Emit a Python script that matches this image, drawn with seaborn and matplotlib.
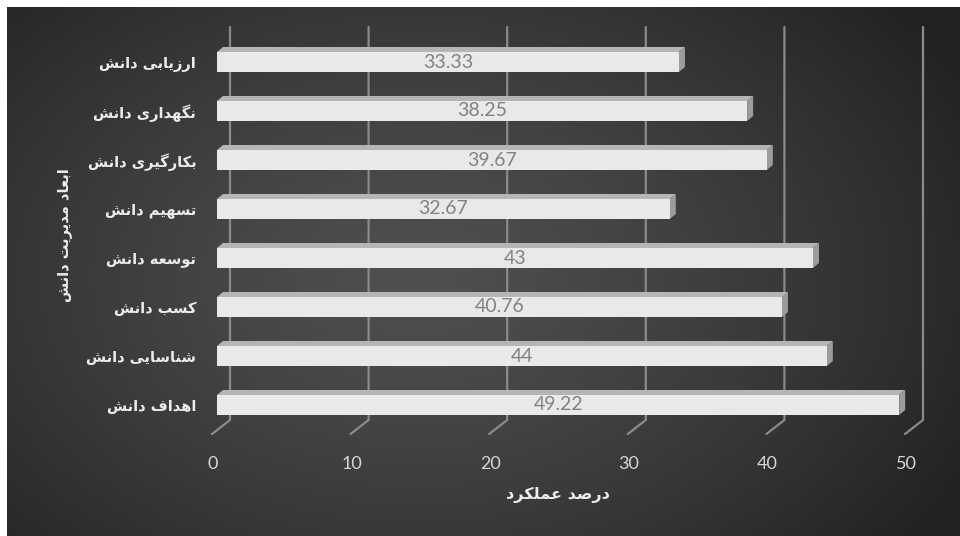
import numpy as np
import matplotlib
matplotlib.use("Agg")
import matplotlib.pyplot as plt
from matplotlib import transforms
from matplotlib.patches import Polygon
from matplotlib.lines import Line2D
import seaborn as sns

# ---------------- data ----------------
categories = ['ارزیابی دانش', 'نگهداری دانش', 'بکارگیری دانش', 'تسهیم دانش',
              'توسعه دانش', 'کسب دانش', 'شناسایی دانش', 'اهداف دانش']
values = [33.33, 38.25, 39.67, 32.67, 43, 40.76, 44, 49.22]
xticks = [0, 10, 20, 30, 40, 50]
x_title = 'درصد عملکرد'
y_title = 'ابعاد مدیریت دانش'

# ---------------- minimal Arabic/Persian shaping ----------------
FORMS = {
    'ا': ('\uFE8D', '\uFE8E'), 'د': ('\uFEA9', '\uFEAA'), 'ر': ('\uFEAD', '\uFEAE'),
    'ز': ('\uFEAF', '\uFEB0'), 'و': ('\uFEED', '\uFEEE'),
    'ب': ('\uFE8F', '\uFE90', '\uFE91', '\uFE92'), 'ت': ('\uFE95', '\uFE96', '\uFE97', '\uFE98'),
    'س': ('\uFEB1', '\uFEB2', '\uFEB3', '\uFEB4'), 'ش': ('\uFEB5', '\uFEB6', '\uFEB7', '\uFEB8'),
    'ص': ('\uFEB9', '\uFEBA', '\uFEBB', '\uFEBC'), 'ع': ('\uFEC9', '\uFECA', '\uFECB', '\uFECC'),
    'ف': ('\uFED1', '\uFED2', '\uFED3', '\uFED4'), 'ل': ('\uFEDD', '\uFEDE', '\uFEDF', '\uFEE0'),
    'م': ('\uFEE1', '\uFEE2', '\uFEE3', '\uFEE4'), 'ن': ('\uFEE5', '\uFEE6', '\uFEE7', '\uFEE8'),
    'ه': ('\uFEE9', '\uFEEA', '\uFEEB', '\uFEEC'), 'ی': ('\uFBFC', '\uFBFD', '\uFBFE', '\uFBFF'),
    'ک': ('\uFB8E', '\uFB8F', '\uFB90', '\uFB91'), 'گ': ('\uFB92', '\uFB93', '\uFB94', '\uFB95'),
}


def shape(s):
    out = []
    for i, c in enumerate(s):
        if c not in FORMS:
            out.append(c)
            continue
        f = FORMS[c]
        prev = s[i - 1] if i > 0 else None
        nxt = s[i + 1] if i + 1 < len(s) else None
        jp = prev in FORMS and len(FORMS[prev]) == 4
        jn = len(f) == 4 and nxt in FORMS
        if jp and jn:
            g = f[3]
        elif jp:
            g = f[1]
        elif jn:
            g = f[2]
        else:
            g = f[0]
        out.append(g)
    return ''.join(reversed(out))


# ---------------- figure ----------------
W, H = 960, 536
sns.set_style("white")
plt.rcParams['font.family'] = ['DejaVu Sans']
fig = plt.figure(figsize=(W / 100, H / 100), dpi=100, facecolor='white')

# radial gradient background
bg = fig.add_axes([7 / W, 0, (W - 7) / W, (H - 7) / H], zorder=0)
bg.axis('off')
gh, gw = H - 7, W - 7
yy, xx = np.mgrid[0:gh, 0:gw]
r = np.sqrt(((xx - 410) / 620.0) ** 2 + ((yy - 270) / 430.0) ** 2)
r = np.clip(r, 0, 1)
shade = 0.31 - (0.31 - 0.135) * r ** 1.3
bg.imshow(np.dstack([shade] * 3), extent=(0, gw, gh, 0), aspect='auto', interpolation='bilinear')
bg.set_xlim(0, gw)
bg.set_ylim(gh, 0)

# plotting axes (front plane of the bars)
x0p, x1p, ytop, ybot = 217, 910, 22, 434
step = 49.0
ax = fig.add_axes([x0p / W, (H - ybot) / H, (x1p - x0p) / W, (ybot - ytop) / H], zorder=1)
ax.patch.set_alpha(0)

sns.barplot(x=values, y=categories, orient='h', color='#e9e9e9', saturation=1,
            width=20 / step, edgecolor='none', ax=ax, zorder=3)
ax.set_xlim(0, 50)
ax.set_ylim(7 + (ybot - 405) / step, -(62 - ytop) / step)
for s in ax.spines.values():
    s.set_visible(False)

ident = transforms.IdentityTransform()
dx, dy = 6, 5

# 3D gridlines (back wall + floor)
for v in xticks:
    xf = ax.transData.transform((v, 0))[0]
    ln = Line2D([xf + 13, xf + 13, xf - 5], [H - 27, H - 420, H - 434],
                transform=ident, color='#8a8a8a', lw=1.6, zorder=1, clip_on=False)
    ax.add_line(ln)

# 3D faces of bars
for p in ax.patches:
    bb = p.get_bbox()
    (ax0, ay0), (ax1, ay1) = ax.transData.transform([(bb.x0, bb.y0), (bb.x1, bb.y1)])
    yl, yh = min(ay0, ay1), max(ay0, ay1)
    top = Polygon([(ax0, yh), (ax1, yh), (ax1 + dx, yh + dy), (ax0 + dx, yh + dy)],
                  closed=True, transform=ident, facecolor='#b5b5b5', edgecolor='none',
                  zorder=2.5, clip_on=False)
    side = Polygon([(ax1, yl), (ax1, yh), (ax1 + dx, yh + dy), (ax1 + dx, yl + dy)],
                   closed=True, transform=ident, facecolor='#9c9c9c', edgecolor='none',
                   zorder=2.5, clip_on=False)
    ax.add_patch(top)
    ax.add_patch(side)

# data labels
ax.bar_label(ax.containers[0], labels=[f'{v:g}' for v in values], label_type='center',
             color='#828282', fontsize=14, family=['Lato', 'DejaVu Sans'])

# ticks
ax.set_xticks(xticks)
ax.set_xticklabels([str(t) for t in xticks], color='#d6d6d6', fontsize=13, family=['Lato', 'DejaVu Sans'])
ax.tick_params(axis='x', length=0, pad=16)
off = transforms.ScaledTranslation(-4 / 100, 0, fig.dpi_scale_trans)
for lab in ax.get_xticklabels():
    lab.set_transform(lab.get_transform() + off)

ax.set_yticks(range(len(categories)))
ax.set_yticklabels([shape(c) for c in categories], color='#ececec', fontsize=10.5, fontweight='bold')
ax.tick_params(axis='y', length=0, pad=15)

# axis titles
ax.set_xlabel(shape(x_title), color='#ececec', fontsize=11.5, fontweight='bold')
ax.xaxis.set_label_coords((558 - x0p) / (x1p - x0p), -(495 - ybot) / (ybot - ytop))
ax.xaxis.label.set_va('center')
ax.set_ylabel(shape(y_title), color='#ececec', fontsize=10.5, fontweight='bold', rotation=90)
ax.yaxis.set_label_coords((65 - x0p) / (x1p - x0p), 1 - (235 - ytop) / (ybot - ytop))
ax.yaxis.label.set_va('center')

fig.savefig('out.png', dpi=100, facecolor='white')
